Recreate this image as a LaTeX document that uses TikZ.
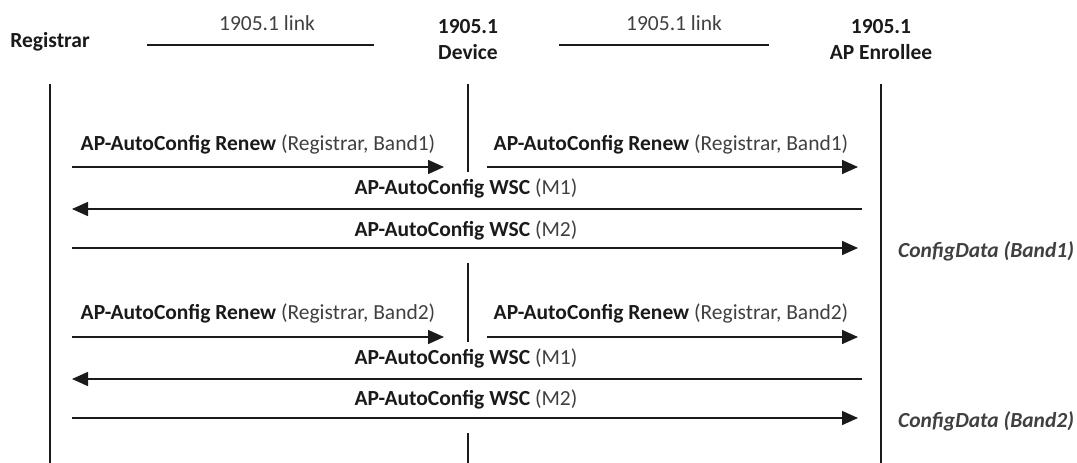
\documentclass[tikz,border=0pt]{standalone}
\usepackage{fontspec}
\setmainfont{Carlito}
\usetikzlibrary{arrows.meta}
\definecolor{txtgray}{HTML}{404040}
\definecolor{txtdark}{HTML}{1A1A1A}
\tikzset{
  lifeline/.style={line width=1.5pt, draw=txtdark},
  linkline/.style={line width=1.5pt, draw=txtdark},
  msg/.style={line width=1.5pt, draw=txtdark, -{Triangle[length=16pt,width=14pt]}},
  msglabel/.style={font=\fontsize{21.5}{24}\selectfont, text=txtgray, inner sep=0pt},
  head/.style={font=\fontsize{21.5}{26}\selectfont\bfseries, text=txtdark, align=center, inner sep=0pt},
  linklabel/.style={font=\fontsize{21.5}{24}\selectfont, text=txtgray, inner sep=0pt},
  note/.style={font=\fontsize{21.5}{24}\selectfont\bfseries\itshape, text=txtgray, inner sep=0pt}
}
\newcommand{\mb}[1]{\textbf{\color{txtdark}#1}}
\begin{document}
\begin{tikzpicture}[x=1pt,y=-1pt]
\useasboundingbox (0,0) rectangle (1077,463);
% headers
\node[head] (hreg) at (50,42) {Registrar};
\node[head] (hdev) at (468,40) {1905.1\\Device};
\node[head] (henr) at (881,40) {1905.1\\AP Enrollee};
% links
\coordinate (l1a) at (147,45); \coordinate (l1b) at (374,45);
\coordinate (l2a) at (559,45); \coordinate (l2b) at (769,45);
\draw[linkline] (l1a) -- (l1b);
\draw[linkline] (l2a) -- (l2b);
\node[linklabel] (ll1) at (267,23) {1905.1 link};
\node[linklabel] (ll2) at (674,23) {1905.1 link};
% lifelines
\coordinate (r0) at (50,84); \coordinate (r1) at (50,463);
\coordinate (e0) at (881,84); \coordinate (e1) at (881,463);
\coordinate (d0) at (468,84); \coordinate (d1) at (468,172);
\coordinate (d2) at (468,263); \coordinate (d3) at (468,342);
\coordinate (d4) at (468,433); \coordinate (d5) at (468,463);
\draw[lifeline] (r0) -- (r1);
\draw[lifeline] (e0) -- (e1);
\draw[lifeline] (d0) -- (d1);
\draw[lifeline] (d2) -- (d3);
\draw[lifeline] (d4) -- (d5);
% block 1
\coordinate (a1s) at (72,167); \coordinate (a1e) at (444,167);
\coordinate (b1s) at (487,167); \coordinate (b1e) at (858,167);
\coordinate (c1s) at (862,209); \coordinate (c1e) at (72,209);
\coordinate (m1s) at (72,248); \coordinate (m1e) at (858,248);
\draw[msg] (a1s) -- (a1e);
\draw[msg] (b1s) -- (b1e);
\draw[msg] (c1s) -- (c1e);
\draw[msg] (m1s) -- (m1e);
\node[msglabel] (ta1) at (258,144) {\mb{AP-AutoConfig Renew} (Registrar, Band1)};
\node[msglabel] (tb1) at (671,144) {\mb{AP-AutoConfig Renew} (Registrar, Band1)};
\node[msglabel] (tc1) at (466,188) {\mb{AP-AutoConfig WSC} (M1)};
\node[msglabel] (tm1) at (466,230) {\mb{AP-AutoConfig WSC} (M2)};
\node[note, anchor=west] (cd1) at (898,251) {ConfigData (Band1)};
% block 2
\coordinate (a2s) at (72,337); \coordinate (a2e) at (444,337);
\coordinate (b2s) at (487,337); \coordinate (b2e) at (858,337);
\coordinate (c2s) at (862,379); \coordinate (c2e) at (72,379);
\coordinate (m2s) at (72,418); \coordinate (m2e) at (858,418);
\draw[msg] (a2s) -- (a2e);
\draw[msg] (b2s) -- (b2e);
\draw[msg] (c2s) -- (c2e);
\draw[msg] (m2s) -- (m2e);
\node[msglabel] (ta2) at (258,313) {\mb{AP-AutoConfig Renew} (Registrar, Band2)};
\node[msglabel] (tb2) at (671,313) {\mb{AP-AutoConfig Renew} (Registrar, Band2)};
\node[msglabel] (tc2) at (466,358) {\mb{AP-AutoConfig WSC} (M1)};
\node[msglabel] (tm2) at (466,399) {\mb{AP-AutoConfig WSC} (M2)};
\node[note, anchor=west] (cd2) at (898,421) {ConfigData (Band2)};
\end{tikzpicture}
\end{document}
